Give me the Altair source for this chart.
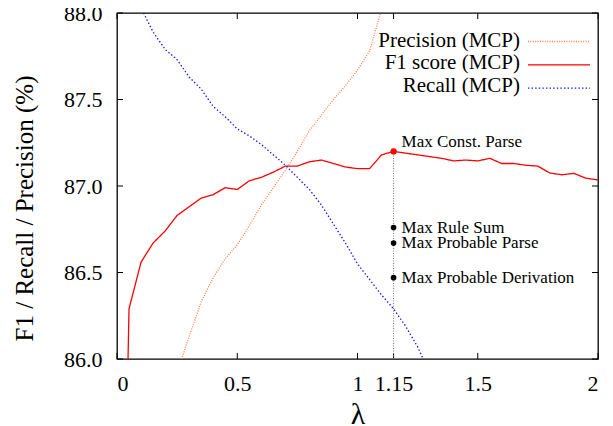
import altair as alt
import pandas as pd

SERIES = ["Precision (MCP)", "F1 score (MCP)", "Recall (MCP)"]
COLORS = ["#ff8050", "#ff0000", "#1010ff"]
DASHES = [[1, 1.4], [1, 0], [1.4, 2.2]]

f1_lambda = [0.00, 0.05, 0.10, 0.15, 0.20, 0.25, 0.30, 0.35, 0.40, 0.45,
             0.50, 0.55, 0.60, 0.65, 0.70, 0.75, 0.80, 0.85, 0.90, 0.95,
             1.00, 1.05, 1.10, 1.15, 1.20, 1.25, 1.30, 1.35, 1.40, 1.45,
             1.50, 1.55, 1.60, 1.65, 1.70, 1.75, 1.80, 1.85, 1.90, 1.95, 2.00]
f1_values = [82.80, 86.29, 86.56, 86.67, 86.74, 86.83, 86.88, 86.93, 86.95, 86.99,
             86.98, 87.03, 87.05, 87.08, 87.115, 87.115, 87.14, 87.15, 87.13, 87.11,
             87.10, 87.10, 87.18, 87.20, 87.19, 87.18, 87.17, 87.16, 87.145, 87.15,
             87.145, 87.16, 87.13, 87.13, 87.12, 87.115, 87.075, 87.065, 87.073, 87.045, 87.035]

prec_lambda = [0.25, 0.30, 0.35, 0.40, 0.45, 0.50, 0.55, 0.60, 0.65, 0.70,
               0.75, 0.80, 0.85, 0.90, 0.95, 1.00, 1.05, 1.10, 1.15]
prec_values = [85.92, 86.13, 86.33, 86.47, 86.58, 86.66, 86.77, 86.89, 86.99, 87.09,
               87.20, 87.32, 87.41, 87.50, 87.58, 87.67, 87.78, 88.02, 88.30]

rec_lambda = [0.05, 0.10, 0.15, 0.20, 0.25, 0.30, 0.35, 0.40, 0.45, 0.50,
              0.55, 0.60, 0.65, 0.70, 0.75, 0.80, 0.85, 0.90, 0.95, 1.00,
              1.05, 1.10, 1.15, 1.20, 1.25, 1.30]
rec_values = [88.30, 88.03, 87.89, 87.79, 87.73, 87.63, 87.56, 87.46, 87.40, 87.33,
              87.29, 87.24, 87.18, 87.12, 87.05, 86.98, 86.89, 86.78, 86.67, 86.55,
              86.46, 86.37, 86.29, 86.19, 86.07, 85.92]

marker_names = ["Max Const. Parse", "Max Rule Sum", "Max Probable Parse", "Max Probable Derivation"]
marker_lambda = [1.15, 1.15, 1.15, 1.15]
marker_values = [87.20, 86.76, 86.67, 86.47]

x_ticks = [0, 0.5, 1, 1.15, 1.5, 2]
y_ticks = [86.0, 86.5, 87.0, 87.5, 88.0]

FONT = "Liberation Serif"

rows = []
for lam, v in zip(prec_lambda, prec_values):
    rows.append({"lambda": lam, "value": v, "series": SERIES[0]})
for lam, v in zip(f1_lambda, f1_values):
    rows.append({"lambda": lam, "value": v, "series": SERIES[1]})
for lam, v in zip(rec_lambda, rec_values):
    rows.append({"lambda": lam, "value": v, "series": SERIES[2]})
df = pd.DataFrame(rows)

markers = pd.DataFrame({"name": marker_names, "lambda": marker_lambda, "value": marker_values})
xt = pd.DataFrame({"t": x_ticks})
yt = pd.DataFrame({"t": y_ticks})

xscale = alt.Scale(domain=[0, 2], nice=False, zero=False)
yscale = alt.Scale(domain=[86, 88], nice=False, zero=False)

# legend showing the line samples (colour + dash), labels left empty
sym_leg = alt.Legend(
    orient="none", legendX=410, legendY=18, title=None,
    symbolType="stroke", symbolSize=3844, symbolStrokeWidth=1.3,
    labelExpr="''", labelFontSize=21, labelOffset=0,
    clipHeight=21, rowPadding=1.3, padding=0,
)
# legend showing the right-aligned texts, symbols hidden
txt_leg = alt.Legend(
    orient="none", legendX=382, legendY=20, title=None, values=SERIES,
    symbolType="stroke", symbolSize=1, symbolStrokeWidth=0, symbolOpacity=0,
    labelFont=FONT, labelFontSize=21, labelColor="black", labelLimit=0,
    labelAlign="right", labelOffset=0,
    clipHeight=16, rowPadding=1.3, padding=0,
)

lines = alt.Chart(df).mark_line(clip=True).encode(
    x=alt.X("lambda:Q", scale=xscale,
            axis=alt.Axis(values=x_ticks, labelExpr="'' + datum.value", title="λ",
                          titleFontSize=30, titleY=64, titleBaseline="alphabetic",
                          labelPadding=14)),
    y=alt.Y("value:Q", scale=yscale,
            axis=alt.Axis(values=y_ticks, format=".1f", title="F1 / Recall / Precision (%)",
                          titleFontSize=25, titleX=-85, titleY=195,
                          titleBaseline="alphabetic", labelPadding=15)),
    color=alt.Color("series:N", scale=alt.Scale(domain=SERIES, range=COLORS), legend=sym_leg),
    strokeDash=alt.StrokeDash("series:N", scale=alt.Scale(domain=SERIES, range=DASHES), legend=sym_leg),
    strokeWidth=alt.StrokeWidth("series:O",
                                scale=alt.Scale(domain=[SERIES[1], SERIES[0], SERIES[2]], range=[1.3, 1.3]),
                                legend=txt_leg),
)

vline = alt.Chart(markers).transform_filter(
    alt.datum.name == marker_names[0]
).transform_calculate(base="86.0").mark_rule(
    color="#777777", strokeWidth=1, strokeDash=[1, 1.5]
).encode(x=alt.X("lambda:Q"), y=alt.Y("base:Q"), y2=alt.Y2("value"))

bottom_ticks = alt.Chart(xt).transform_calculate(a="86.0", b="86.035").mark_rule(
    color="black", strokeWidth=1).encode(x=alt.X("t:Q"), y=alt.Y("a:Q"), y2=alt.Y2("b"))
top_ticks = alt.Chart(xt).transform_calculate(a="88.0", b="87.965").mark_rule(
    color="black", strokeWidth=1).encode(x=alt.X("t:Q"), y=alt.Y("a:Q"), y2=alt.Y2("b"))
left_ticks = alt.Chart(yt).transform_calculate(a="0.0", b="0.025").mark_rule(
    color="black", strokeWidth=1).encode(y=alt.Y("t:Q"), x=alt.X("a:Q"), x2=alt.X2("b"))
right_ticks = alt.Chart(yt).transform_calculate(a="2.0", b="1.975").mark_rule(
    color="black", strokeWidth=1).encode(y=alt.Y("t:Q"), x=alt.X("a:Q"), x2=alt.X2("b"))

red_pt = alt.Chart(markers).transform_filter(alt.datum.name == marker_names[0]).mark_circle(
    color="#ff0000", size=40, opacity=1).encode(x="lambda:Q", y="value:Q")
black_pts = alt.Chart(markers).transform_filter(alt.datum.name != marker_names[0]).mark_circle(
    color="black", size=32, opacity=1).encode(x="lambda:Q", y="value:Q")

top_label = alt.Chart(markers).transform_filter(alt.datum.name == marker_names[0]).mark_text(
    align="left", baseline="middle", dx=8, dy=-9, font=FONT, fontSize=17, color="black"
).encode(x="lambda:Q", y="value:Q", text="name:N")
other_labels = alt.Chart(markers).transform_filter(alt.datum.name != marker_names[0]).mark_text(
    align="left", baseline="middle", dx=8, dy=0, font=FONT, fontSize=17, color="black"
).encode(x="lambda:Q", y="value:Q", text="name:N")

chart = alt.layer(
    lines, bottom_ticks, top_ticks, left_ticks, right_ticks,
    vline, red_pt, black_pts, top_label, other_labels
).properties(
    width=481, height=346,
    autosize=alt.AutoSizeParams(type="none"),
    padding={"left": 109, "top": 5, "right": 6, "bottom": 70},
).configure_view(
    stroke="black", strokeWidth=1.3
).configure_axis(
    grid=False, ticks=False, domain=False,
    labelFont=FONT, labelFontSize=22, labelColor="black",
    titleFont=FONT, titleFontWeight="normal", titleColor="black",
)

chart.save("out.html", embed_options={"renderer": "svg", "actions": False})
